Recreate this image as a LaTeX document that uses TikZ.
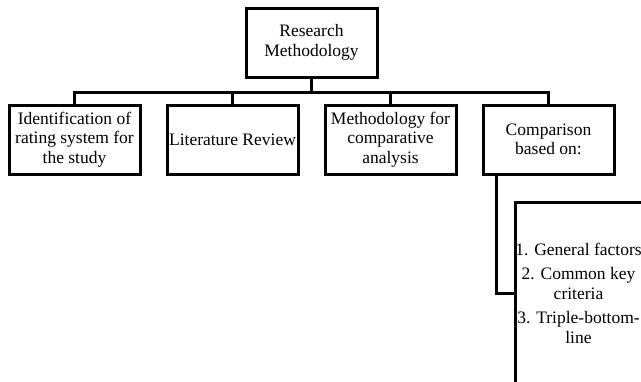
\documentclass[tikz,border=0pt]{standalone}
\usepackage{fontspec}
\setmainfont{Liberation Serif}
\begin{document}
\begin{tikzpicture}[x=1pt,y=-1pt,
  box/.style={draw=black, line width=3pt, fill=white, align=center, inner sep=1pt,
    minimum width=131pt, minimum height=69pt, font=\fontsize{17.5}{19.5}\selectfont},
  link/.style={draw=black, line width=3pt},
]
\useasboundingbox (0,0) rectangle (641,381);
\clip (0,0) rectangle (641,381);
\fill[white] (0,0) rectangle (641,381);
\node[box] (root) at (311.5,42.5) {Research\\Methodology};
\node[box] (c1) at (74.5,139.5) {Identification of\\rating system for\\the study};
\node[box] (c2) at (232.5,139.5) {Literature Review};
\node[box] (c3) at (390.5,139.5) {Methodology for\\comparative\\analysis};
\node[box] (c4) at (548.5,139.5) {Comparison\\based on:};
\node[box, minimum width=130pt, minimum height=182pt] (c5) at (580,293) {};
\node[align=center, inner sep=0pt, font=\fontsize{17.5}{19.5}\selectfont] (c5t) at (578.5,293)
  {1. General factors\\[5pt]2. Common key\\criteria\\[5pt]3. Triple-bottom-\\line};
\coordinate (bus) at (311.5,92);
\draw[link] (root.south) -- (root.south |- bus);
\draw[link] (c1.north) -- (c1.north |- bus) -- (c4.north |- bus) -- (c4.north);
\draw[link] (c2.north) -- (c2.north |- bus);
\draw[link] (c3.north) -- (c3.north |- bus);
\draw[link] ([xshift=-52.5pt]c4.south) |- (c5.west);
\end{tikzpicture}
\end{document}
